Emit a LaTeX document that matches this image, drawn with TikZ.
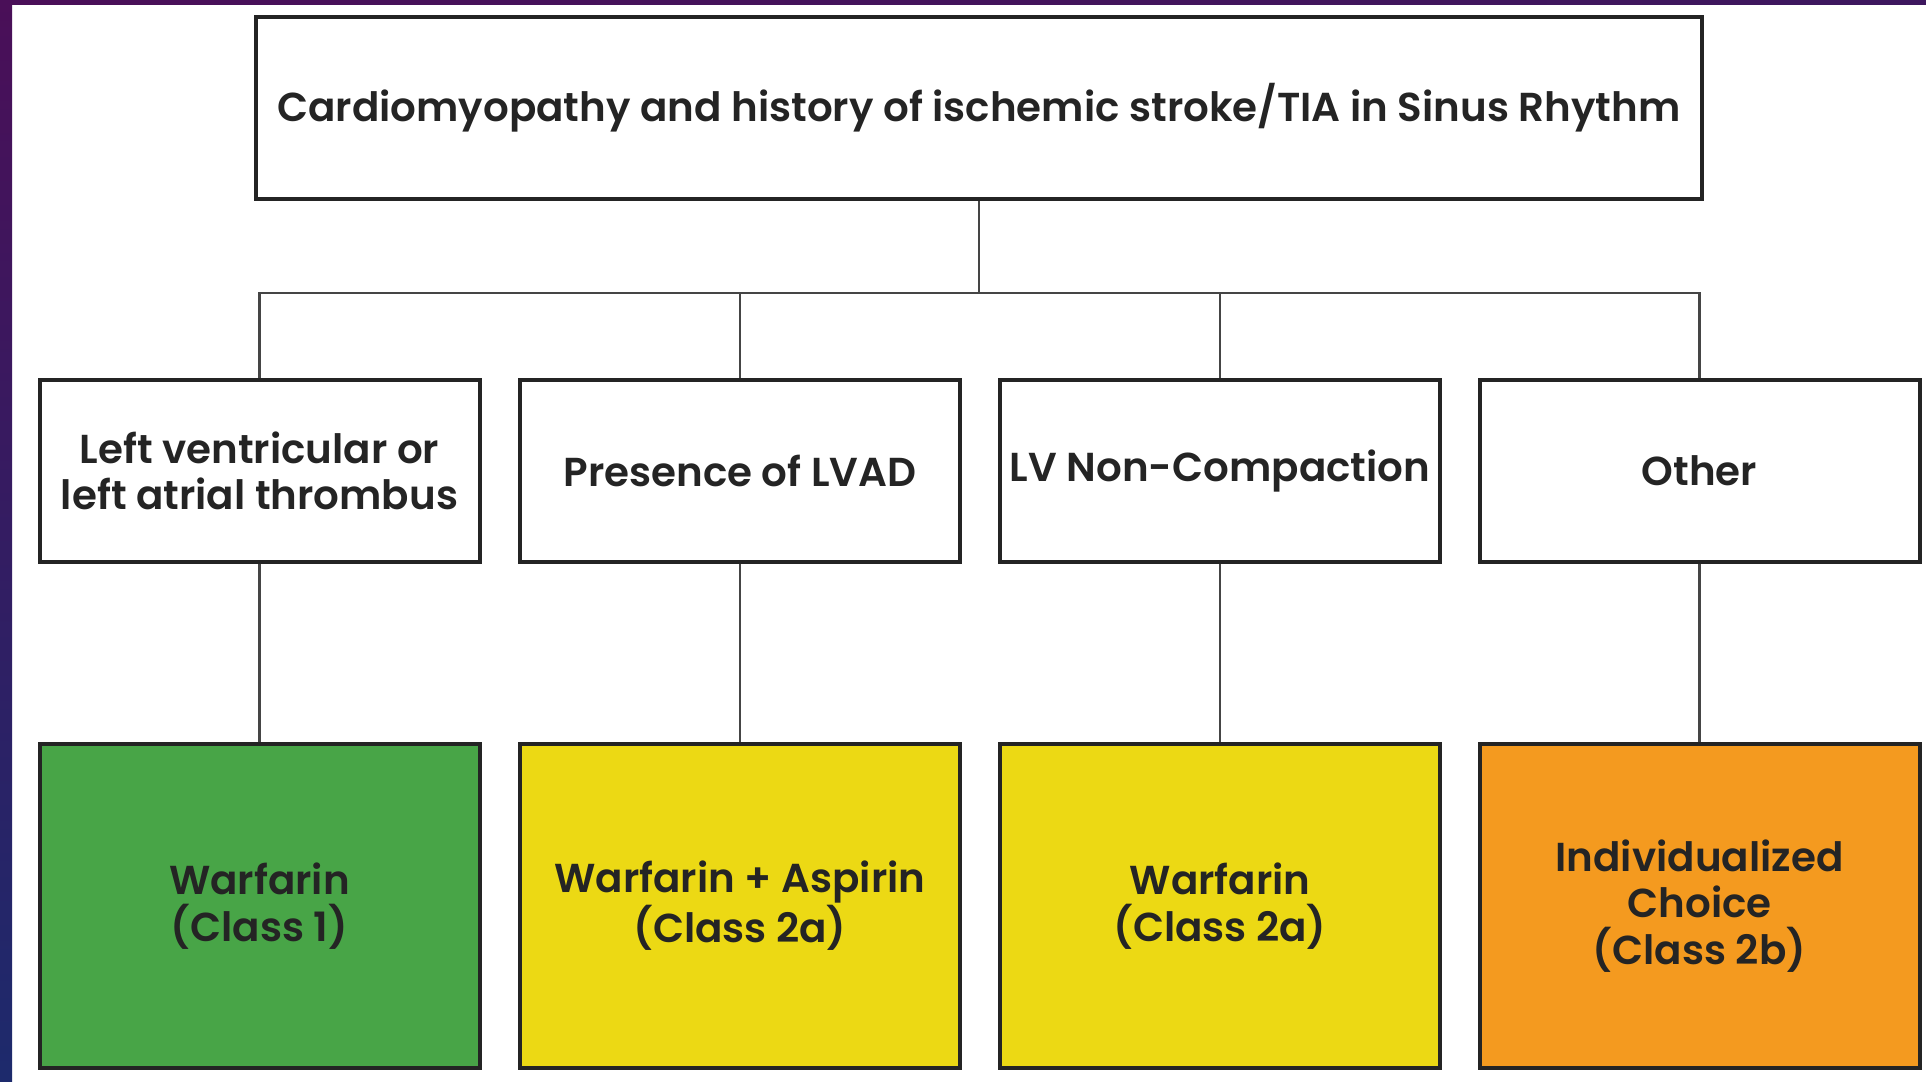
\documentclass[tikz,border=0pt]{standalone}
\usepackage{fontspec}
\setmainfont{Poppins SemiBold}
\usetikzlibrary{positioning}
\definecolor{classone}{HTML}{48A547}
\definecolor{classtwoa}{HTML}{ECD914}
\definecolor{classtwob}{HTML}{F49A1F}
\definecolor{slidetop}{HTML}{4A0F58}
\definecolor{slidebot}{HTML}{1D2A6C}
\definecolor{ink}{HTML}{242424}
\begin{document}
\begin{tikzpicture}[x=0.5pt, y=-0.5pt,
    box/.style={draw=ink, line width=2pt, minimum width=220pt, minimum height=91pt,
        align=center, text=ink, font=\fontsize{20.2}{23.3}\selectfont},
    rec/.style={box, minimum height=162pt},
    link/.style={draw=ink!85, line width=1.2pt}]
    \useasboundingbox (0,0) rectangle (1926,1081);
    % fond de la diapo
    \fill[white] (0,0) rectangle (1926,1081);
    \shade[top color=slidetop, bottom color=slidebot] (0,0) rectangle (12,1081);
    \shade[left color=slidetop, right color=slidetop!70!slidebot] (0,0) rectangle (1926,5);
    % Situation de depart
    \node[box, minimum width=723pt] (top) at (979,108)
        {Cardiomyopathy and history of ischemic stroke/TIA in Sinus Rhythm};
    % Cas
    \node[box] (thr) at (259.5,471) {Left ventricular or\\left atrial thrombus};
    \node[box] (lvad) at (740,471) {Presence of LVAD};
    \node[box] (ncp) at (1220,471) {LV Non-Compaction};
    \node[box] (oth) at (1699.5,471) {Other};
    % Traitements
    \node[rec, fill=classone] (thr-rx) at (259.5,906) {Warfarin\\(Class 1)};
    \node[rec, fill=classtwoa] (lvad-rx) at (740,906) {Warfarin + Aspirin\\(Class 2a)};
    \node[rec, fill=classtwoa] (ncp-rx) at (1220,906) {Warfarin\\(Class 2a)};
    \node[rec, fill=classtwob] (oth-rx) at (1699.5,906) {Individualized\\Choice\\(Class 2b)};
    % Liaisons
    \coordinate (bus) at (979,293);
    \draw[link] (top) -- (bus);
    \foreach \n in {thr,lvad,ncp,oth} {
        \draw[link] (bus) -| (\n.north);
        \draw[link] (\n.south) -- (\n-rx.north);
    }
\end{tikzpicture}
\end{document}
